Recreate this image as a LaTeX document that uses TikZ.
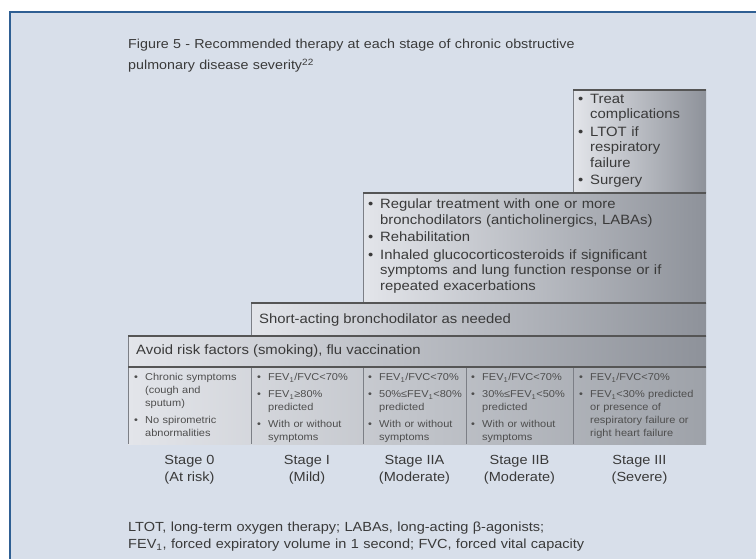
\documentclass[tikz,border=0pt]{standalone}
\usepackage{fontspec}
\setmainfont{Liberation Sans}[FakeStretch=1.1]
\definecolor{bg}{HTML}{D8DFEA}
\definecolor{frameblue}{HTML}{2F5F93}
\definecolor{shL}{HTML}{E3E5EA}
\definecolor{shR}{HTML}{8E929A}
\definecolor{shRt}{HTML}{9EA2A9}
\definecolor{txt}{HTML}{3A3A3A}
\definecolor{celltxt}{HTML}{4E4E4E}
\definecolor{edge}{HTML}{555555}
\definecolor{sideedge}{HTML}{7C7F86}
\newlength{\bulw}\newlength{\itgap}
\newcommand{\bstart}{\hangindent=\bulw\hangafter=1\noindent\strut\makebox[\bulw][l]{•}}
\newcommand{\fitem}{\bstart}
\newcommand{\nitem}{\par\vskip\itgap\bstart}
\newcommand{\nl}{\newline\strut}
\tikzset{
  tier/.style={left color=shL, right color=shR},
  tiertable/.style={left color=shL, right color=shRt},
  topedge/.style={draw=edge, line width=1.2pt},
  sideline/.style={draw=sideedge, line width=0.8pt},
  bigfont/.style={font=\fontsize{13.5}{15.5}\selectfont\setlength\bulw{12pt}\setlength\itgap{2pt}},
  boxtext/.style={anchor=north west, inner sep=0pt, text width=#1, text=txt, bigfont},
  rowtext/.style={anchor=west, inner sep=0pt, text=txt, font=\fontsize{13.5}{15.5}\selectfont},
  celltext/.style={anchor=north west, inner sep=0pt, text width=#1, text=celltxt,
    font=\fontsize{10}{13}\selectfont\setlength\bulw{11pt}\setlength\itgap{4pt}},
  stagelbl/.style={align=center, inner sep=0pt, text=txt, font=\fontsize{13.2}{17}\selectfont},
  plaintext/.style={anchor=north west, inner sep=0pt, text width=620pt, align=left, text=txt},
}
\begin{document}
\begin{tikzpicture}[x=1pt,y=-1pt]
\useasboundingbox (0,0) rectangle (756,559);
\fill[white] (0,0) rectangle (756,559);
\fill[bg] (10,12) rectangle (756,559);
\draw[frameblue, line width=1.5pt] (10,559) -- (10,12) -- (756,12);

% title
\node[plaintext, font=\fontsize{13}{21}\selectfont] (title) at (128,33.8)
  {\strut Figure 5 - Recommended therapy at each stage of chronic obstructive\\pulmonary disease severity\textsuperscript{22}};

% tiers
\shade[tier] (573,90) rectangle (706,193);
\shade[tier] (363,193) rectangle (706,303);
\shade[tier] (251,303) rectangle (706,336);
\shade[tier] (128,336) rectangle (706,367);
\shade[tiertable] (128,367) rectangle (706,444);

\draw[sideline] (573,90) -- (573,193);
\draw[sideline] (363,193) -- (363,303);
\draw[sideline] (251,303) -- (251,336);
\draw[sideline] (128,336) -- (128,367);
\foreach \cx in {128,251,363,466,573} \draw[sideline] (\cx,367) -- (\cx,444);
\draw[topedge] (573,90) -- (706,90);
\draw[topedge] (363,193) -- (706,193);
\draw[topedge] (251,303) -- (706,303);
\draw[topedge] (128,336) -- (706,336);
\draw[topedge] (128,367) -- (706,367);

% tier texts
\node[boxtext=124pt] (t3) at (578,92)
  {\raggedright\fitem Treat\nl complications\nitem LTOT if\nl respiratory\nl failure\nitem Surgery\par};
\node[boxtext=335pt] (t2) at (368,197.5)
  {\raggedright\fitem Regular treatment with one or more\nl bronchodilators (anticholinergics, LABAs)\nitem Rehabilitation\nitem Inhaled glucocorticosteroids if significant\nl symptoms and lung function response or if\nl repeated exacerbations\par};
\node[rowtext] (t1) at (259,320) {Short-acting bronchodilator as needed};
\node[rowtext] (t0) at (136,351) {Avoid risk factors (smoking), flu vaccination};

% cells
\node[celltext=114pt] (c0) at (134,371.5)
  {\raggedright\fitem Chronic symptoms\nl (cough and\nl sputum)\nitem No spirometric\nl abnormalities\par};
\node[celltext=104pt] (c1) at (257,371.5)
  {\raggedright\fitem FEV\textsubscript{1}/FVC<70\%\nitem FEV\textsubscript{1}≥80\%\nl predicted\nitem With or without\nl symptoms\par};
\node[celltext=100pt] (c2) at (368,371.5)
  {\raggedright\fitem FEV\textsubscript{1}/FVC<70\%\nitem 50\%≤FEV\textsubscript{1}<80\%\nl predicted\nitem With or without\nl symptoms\par};
\node[celltext=104pt] (c3) at (471,371.5)
  {\raggedright\fitem FEV\textsubscript{1}/FVC<70\%\nitem 30\%≤FEV\textsubscript{1}<50\%\nl predicted\nitem With or without\nl symptoms\par};
\node[celltext=126pt] (c4) at (579,371.5)
  {\raggedright\fitem FEV\textsubscript{1}/FVC<70\%\nitem FEV\textsubscript{1}<30\% predicted\nl or presence of\nl respiratory failure or\nl right heart failure\par};

% stage labels
\node[stagelbl] (s0) at (189.5,469.5) {Stage 0\\(At risk)};
\node[stagelbl] (s1) at (307,469.5) {Stage I\\(Mild)};
\node[stagelbl] (s2) at (414.5,469.5) {Stage IIA\\(Moderate)};
\node[stagelbl] (s3) at (519.5,469.5) {Stage IIB\\(Moderate)};
\node[stagelbl] (s4) at (639.5,469.5) {Stage III\\(Severe)};

% footnote
\node[plaintext, font=\fontsize{13.2}{17}\selectfont] (foot) at (128,519.5)
  {\strut LTOT, long-term oxygen therapy; LABAs, long-acting β-agonists;\\FEV\textsubscript{1}, forced expiratory volume in 1 second; FVC, forced vital capacity};
\end{tikzpicture}
\end{document}
